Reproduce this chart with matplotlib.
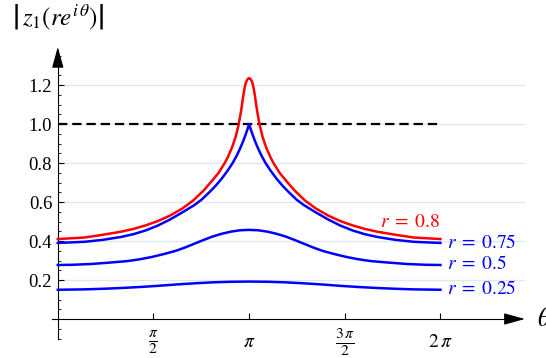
import numpy as np
import matplotlib
matplotlib.use("Agg")
import matplotlib.pyplot as plt

plt.rcParams['font.family'] = ['Liberation Serif', 'DejaVu Serif']
plt.rcParams['mathtext.fontset'] = 'stix'

# curves are symmetric about theta = pi; values read as (distance from pi, |z1|)
d80 = [0.00, 0.02, 0.04, 0.06, 0.08, 0.10, 0.13, 0.17, 0.22, 0.28, 0.35, 0.40,
       0.50, 0.60, 0.75, 0.92, 1.10, 1.30, 1.50, 1.70, 1.90, 2.10, 2.40, 2.70, np.pi]
v80 = [1.235, 1.232, 1.222, 1.205, 1.175, 1.135, 1.070, 1.000, 0.935, 0.880, 0.830, 0.800,
       0.750, 0.712, 0.658, 0.607, 0.566, 0.530, 0.502, 0.480, 0.462, 0.448, 0.432, 0.418, 0.410]

d75 = [0.00, 0.03, 0.06, 0.10, 0.15, 0.20, 0.27, 0.35, 0.45, 0.55, 0.65, 0.78,
       0.90, 1.10, 1.30, 1.50, 1.70, 1.90, 2.10, 2.40, 2.70, np.pi]
v75 = [1.000, 0.970, 0.943, 0.910, 0.873, 0.840, 0.800, 0.762, 0.720, 0.683, 0.651, 0.612,
       0.584, 0.546, 0.510, 0.479, 0.454, 0.435, 0.421, 0.406, 0.396, 0.390]

d50 = [0.00, 0.15, 0.30, 0.45, 0.60, 0.75, 0.90, 1.05, 1.20, 1.40, 1.60, 1.80,
       2.00, 2.30, 2.60, 2.90, np.pi]
v50 = [0.457, 0.455, 0.448, 0.437, 0.423, 0.405, 0.386, 0.367, 0.350, 0.333, 0.318, 0.306,
       0.297, 0.289, 0.282, 0.278, 0.277]

d25 = [0.00, 0.30, 0.60, 0.90, 1.20, 1.50, 1.80, 2.10, 2.40, 2.70, np.pi]
v25 = [0.192, 0.191, 0.188, 0.183, 0.177, 0.170, 0.164, 0.159, 0.155, 0.152, 0.150]

def full_curve(d, v):
    d = np.asarray(d)
    th = np.concatenate([np.pi - d[::-1], np.pi + d[1:]])
    val = np.concatenate([np.asarray(v)[::-1], np.asarray(v)[1:]])
    return th, val

curves = [
    (d80, v80, 'red', r'$r\;=\;0.8$', (5.29, 0.497)),
    (d75, v75, 'blue', r'$r\;=\;0.75$', (6.39, 0.390)),
    (d50, v50, 'blue', r'$r\;=\;0.5$', (6.39, 0.282)),
    (d25, v25, 'blue', r'$r\;=\;0.25$', (6.39, 0.154)),
]

y_grid = [0.2, 0.4, 0.6, 0.8, 1.0, 1.2]
x_ticks = [np.pi / 2, np.pi, 3 * np.pi / 2, 2 * np.pi]
x_labels = [r'$\frac{\pi}{2}$', r'$\pi$', r'$\frac{3\,\pi}{2}$', r'$2\,\pi$']

fig = plt.figure(figsize=(5.46, 3.58), dpi=100)
ax = fig.add_axes([0, 0, 1, 1])
ax.set_xlim(-0.949, 8.017)
ax.set_ylim(-0.2, 1.636)

ax.hlines(y_grid, 0, 7.67, colors='#dde9f8', lw=1.0, zorder=0)
ax.hlines(1.0, 0, 2 * np.pi, colors='k', lw=1.6, linestyles=(0, (4.2, 2.2)), zorder=2)

for d, v, col, lbl, pos in curves:
    th, val = full_curve(d, v)
    ax.plot(th, val, color=col, lw=1.8, zorder=3, solid_joinstyle='round')
    ax.text(pos[0], pos[1], lbl, color=col, fontsize=14, va='center', ha='left')

# axes through the origin
for s in ['top', 'right']:
    ax.spines[s].set_visible(False)
ax.spines['left'].set_position(('data', 0))
ax.spines['bottom'].set_position(('data', 0))
ax.spines['left'].set_bounds(-0.1, 1.35)
ax.spines['bottom'].set_bounds(-0.1, 7.5)
ax.spines['left'].set_linewidth(0.8)
ax.spines['bottom'].set_linewidth(0.8)

arrow = dict(arrowstyle='-|>,head_length=1.3,head_width=0.36', color='k', lw=0.8,
             mutation_scale=10, shrinkA=0, shrinkB=0)
ax.annotate('', xy=(0, 1.395), xytext=(0, 1.3), arrowprops=arrow)
ax.annotate('', xy=(7.67, 0), xytext=(7.4, 0), arrowprops=arrow)

ax.set_yticks(y_grid)
ax.set_yticklabels(['%.1f' % v for v in y_grid])
ax.set_yticks(np.arange(-0.1, 1.36, 0.05), minor=True)
ax.tick_params(axis='y', which='major', direction='in', length=4.5, width=0.8,
               pad=4, labelsize=13.5)
ax.tick_params(axis='y', which='minor', direction='in', length=2.5, width=0.6)

ax.set_xticks(x_ticks)
ax.set_xticklabels(x_labels)
ax.tick_params(axis='x', which='major', direction='in', length=4.5, width=0.8,
               pad=17, labelsize=14)
for i, lab in enumerate(ax.get_xticklabels()):
    lab.set_va('center')
    if i in (0, 2):
        lab.set_fontsize(16)

ax.text(7.87, 0.0, r'$\theta$', fontsize=19, va='center', ha='left')
ax.text(-0.76, 1.545, r'$\left|\,z_1\left(r e^{i\,\theta}\right)\right|$',
        fontsize=18, va='center', ha='left')

fig.savefig('out.png', dpi=100)
